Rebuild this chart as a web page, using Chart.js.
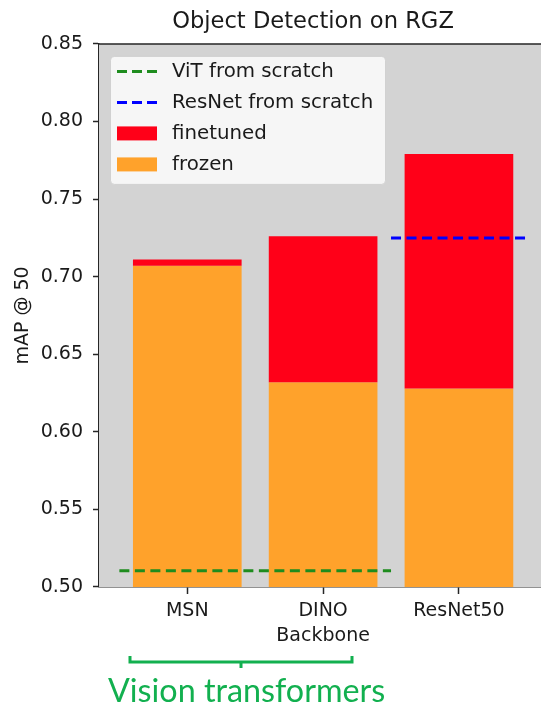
<!DOCTYPE html>
<html>
<head>
<meta charset="utf-8">
<script src="https://cdn.jsdelivr.net/npm/chart.js@4"></script>
<style>
  body { margin: 0; overflow: hidden; background: #fff; }
</style>
</head>
<body>
<canvas id="grafico" width="626" height="706"></canvas>
<script>
// dados
const categories = ['MSN', 'DINO', 'ResNet50']
const frozen = [0.707, 0.632, 0.628]
const finetuned = [0.711, 0.726, 0.779]
const vitScratch = 0.5105       // ViT treinado do zero (MSN..DINO)
const resnetScratch = 0.725     // ResNet treinado do zero (ResNet50)
const yTicks = [0.50, 0.55, 0.60, 0.65, 0.70, 0.75, 0.80, 0.85]

const FONT = '"DejaVu Sans", sans-serif'
const TXT = '#1a1a1a'
const SPINE = '#262626'

Chart.defaults.font.family = FONT
Chart.defaults.color = TXT

// fundo cinza + borda superior do eixo
const fundo = {
  id: 'fundo',
  beforeDatasetsDraw(chart) {
    const { ctx, chartArea: a } = chart
    ctx.save()
    ctx.fillStyle = '#d3d3d3'
    ctx.fillRect(a.left, a.top, a.right - a.left, a.bottom - a.top)
    ctx.restore()
  },
  afterDraw(chart) {
    const { ctx, chartArea: a } = chart
    ctx.save()
    ctx.strokeStyle = SPINE
    ctx.lineWidth = 1.5
    ctx.beginPath()
    ctx.moveTo(a.left - 0.75, a.top)
    ctx.lineTo(a.right, a.top)
    ctx.stroke()
    ctx.restore()
  }
}

// legenda dentro da área do gráfico, estilo matplotlib
const legenda = {
  id: 'legenda',
  afterDatasetsDraw(chart) {
    const { ctx, chartArea: a } = chart
    const x0 = a.left + 11, y0 = a.top + 12, w = 275, h = 128
    ctx.save()
    ctx.fillStyle = 'rgba(255,255,255,0.8)'
    ctx.strokeStyle = 'rgba(204,204,204,0.8)'
    ctx.lineWidth = 1
    ctx.beginPath()
    ctx.roundRect(x0 + 0.5, y0 + 0.5, w, h, 4)
    ctx.fill()
    ctx.stroke()
    ctx.font = '19.8px ' + FONT
    ctx.textBaseline = 'middle'
    chart.data.datasets.forEach((ds, i) => {
      const cy = y0 + 15.5 + i * 31
      if (ds.type === 'line') {
        ctx.strokeStyle = ds.borderColor
        ctx.lineWidth = ds.borderWidth
        ctx.setLineDash([10, 5])
        ctx.beginPath()
        ctx.moveTo(x0 + 7, cy)
        ctx.lineTo(x0 + 47, cy)
        ctx.stroke()
        ctx.setLineDash([])
      } else {
        ctx.fillStyle = ds.backgroundColor
        ctx.fillRect(x0 + 7, cy - 7, 40, 14)
      }
      ctx.fillStyle = TXT
      ctx.fillText(ds.label, x0 + 62, cy)
    })
    ctx.restore()
  }
}

// título do eixo x e chave verde "Vision transformers"
const anotacao = {
  id: 'anotacao',
  afterDraw(chart) {
    const { ctx } = chart
    const x = chart.scales.x
    ctx.save()
    // "Backbone" centrado no eixo original (-0.65 .. 2.65)
    ctx.font = '19px ' + FONT
    ctx.fillStyle = TXT
    ctx.textAlign = 'center'
    ctx.textBaseline = 'middle'
    ctx.fillText('Backbone', (x.getPixelForValue(-0.65) + x.getPixelForValue(2.65)) / 2, 636)

    const verde = '#12b04f'
    ctx.strokeStyle = verde
    ctx.lineWidth = 3
    ctx.beginPath()
    ctx.moveTo(130, 656)
    ctx.lineTo(130, 662)
    ctx.lineTo(352, 662)
    ctx.lineTo(352, 656)
    ctx.moveTo(241, 662)
    ctx.lineTo(241, 668)
    ctx.stroke()
    const texto = 'Vision transformers'
    ctx.font = '100px Lato'
    const s = 100 * 277 / ctx.measureText(texto).width
    ctx.font = s.toFixed(1) + 'px Lato'
    ctx.fillStyle = verde
    ctx.textAlign = 'left'
    ctx.textBaseline = 'alphabetic'
    ctx.fillText(texto, 108, 702)
    ctx.restore()
  }
}

const datasets = [
  {
    type: 'line',
    label: 'ViT from scratch',
    data: [{ x: 0 - 0.5, y: vitScratch }, { x: 1 + 0.5, y: vitScratch }],
    borderColor: '#1e8c1e',
    borderWidth: 3,
    borderDash: [10, 5.5],
    pointRadius: 0,
    fill: false
  },
  {
    type: 'line',
    label: 'ResNet from scratch',
    data: [{ x: 2 - 0.5, y: resnetScratch }, { x: 2 + 0.5, y: resnetScratch }],
    borderColor: '#0000ff',
    borderWidth: 3,
    borderDash: [10, 5.5],
    pointRadius: 0,
    fill: false
  },
  {
    type: 'bar',
    label: 'finetuned',
    data: categories.map((c, i) => ({ x: i, y: [frozen[i], finetuned[i]] })),
    backgroundColor: '#ff0018',
    grouped: false,
    barPercentage: 1,
    categoryPercentage: 0.8
  },
  {
    type: 'bar',
    label: 'frozen',
    data: categories.map((c, i) => ({ x: i, y: frozen[i] })),
    backgroundColor: '#ffa22b',
    grouped: false,
    barPercentage: 1,
    categoryPercentage: 0.8
  }
]

const config = {
  type: 'bar',
  data: { datasets },
  options: {
    responsive: false,
    animation: false,
    layout: { padding: 0 },
    plugins: {
      legend: { display: false },
      tooltip: { enabled: false },
      title: {
        display: true,
        text: 'Object Detection on RGZ',
        color: TXT,
        font: { size: 22.6, weight: 'normal' },
        padding: { top: 9, bottom: 7.8 }
      }
    },
    scales: {
      x: {
        type: 'linear',
        min: -0.65,
        max: 3.23,   // o eixo continua além da borda direita da imagem
        offset: false,
        afterBuildTicks: s => { s.ticks = categories.map((c, i) => ({ value: i })) },
        afterFit: s => { s.height = 119 },
        ticks: {
          callback: v => categories[v],
          autoSkip: false,
          maxRotation: 0,
          padding: 6,
          color: TXT,
          font: { size: 19 }
        },
        grid: { offset: false, drawOnChartArea: false, tickLength: 7, color: SPINE, tickWidth: 1.5 },
        border: { color: SPINE, width: 1.5 }
      },
      y: {
        min: 0.5,
        max: 0.85,
        afterBuildTicks: s => { s.ticks = yTicks.map(v => ({ value: v })) },
        afterFit: s => { s.width = 99 },
        ticks: {
          callback: v => v.toFixed(2),
          padding: 10,
          color: TXT,
          font: { size: 19 }
        },
        grid: { drawOnChartArea: false, tickLength: 6, color: SPINE, tickWidth: 1.5 },
        border: { color: SPINE, width: 1.5 },
        title: {
          display: true,
          text: 'mAP @ 50',
          color: TXT,
          font: { size: 19 },
          padding: { top: 12, bottom: 0 }
        }
      }
    }
  },
  plugins: [fundo, legenda, anotacao]
}

const grafico = new Chart(document.getElementById('grafico'), config)
</script>
</body>
</html>
